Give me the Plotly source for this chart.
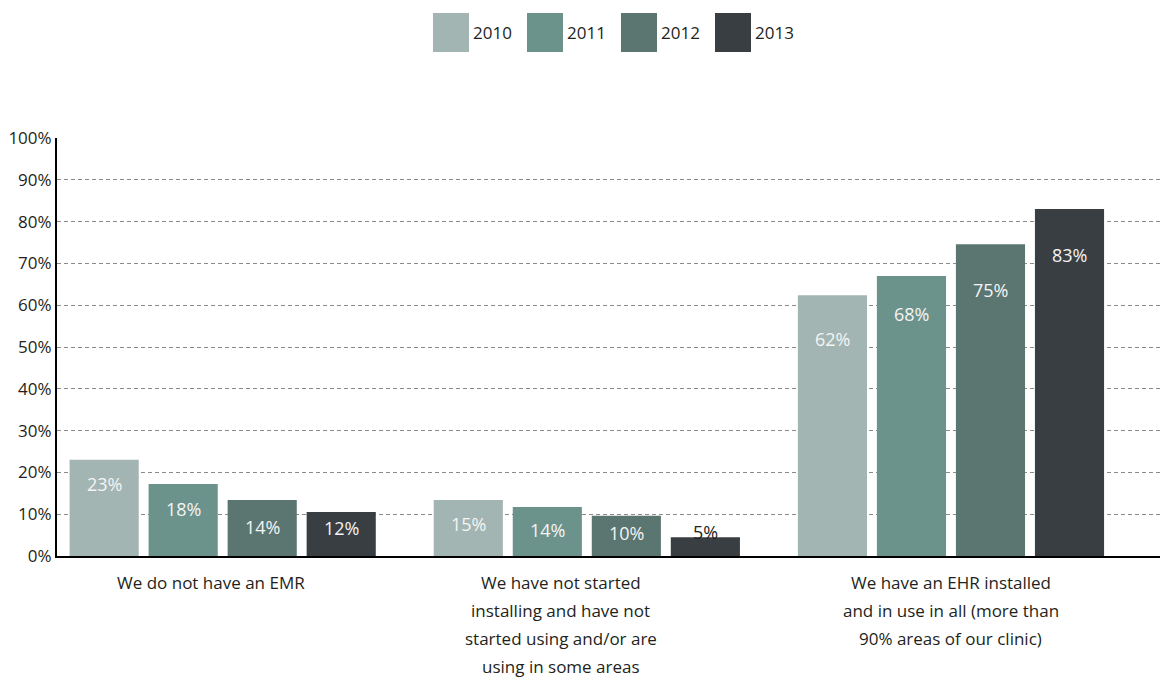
import plotly.graph_objects as go

# ---------------- data ----------------
years = ["2010", "2011", "2012", "2013"]
categories = [
    "We do not have an EMR",
    "We have not started<br>installing and have not<br>started using and/or are<br>using in some areas",
    "We have an EHR installed<br>and in use in all (more than<br>90% areas of our clinic)",
]
# bar heights as drawn (percent)
heights_2010 = [23.0, 13.4, 62.4]
heights_2011 = [17.2, 11.7, 67.0]
heights_2012 = [13.4, 9.6, 74.6]
heights_2013 = [10.5, 4.5, 83.0]
# printed labels (percent)
labels_2010 = [23, 15, 62]
labels_2011 = [18, 14, 68]
labels_2012 = [14, 10, 75]
labels_2013 = [12, 5, 83]
y_ticks = [0, 10, 20, 30, 40, 50, 60, 70, 80, 90, 100]

heights = [heights_2010, heights_2011, heights_2012, heights_2013]
labels = [labels_2010, labels_2011, labels_2012, labels_2013]

# ---------------- style ----------------
colors = ["#a3b5b2", "#6c928c", "#5b7570", "#393e42"]
FONT = "Open Sans"
TXT = "#231f20"
label_yshift = [[-24, -24, -44], [-25, -23, -38], [-27, -17, -46], [-16, 5, -46]]
label_color = [["#f4f4f4"] * 3, ["#f4f4f4"] * 3, ["#f4f4f4"] * 3,
               ["#f4f4f4", TXT, "#f4f4f4"]]
cat_xshift = [-12, -26, 0]
bargap, bargroupgap = 0.132, 0.125

OFF = 8  # page body margin
W, H = 1168 - OFF, 679 - OFF
L, R, T = 57 - OFF, 0, 138 - OFF
B = H - (556 - OFF)
pw, ph = W - L - R, H - T - B


def px_to_paper(xp, yp):
    # xp, yp: window pixel coordinates
    xf, yf = xp - OFF, yp - OFF
    return (xf - L) / pw, (H - B - yf) / ph


xs = list(range(len(categories)))
fig = go.Figure()
for i, yr in enumerate(years):
    fig.add_trace(go.Bar(x=xs, y=heights[i], name=yr, marker_color=colors[i],
                         marker_line_width=0, showlegend=False))

annotations = []
slot = (1 - bargap) / len(years)
for i in range(len(years)):
    for c in xs:
        annotations.append(dict(
            x=c + (i - (len(years) - 1) / 2) * slot, y=heights[i][c],
            xref="x", yref="y", text=f"{labels[i][c]}%", showarrow=False,
            yanchor="middle", yshift=label_yshift[i][c],
            font=dict(family=FONT, size=18, color=label_color[i][c])))

# category labels (one annotation per line for wider line spacing)
for c, cat in enumerate(categories):
    for j, line in enumerate(cat.split("<br>")):
        annotations.append(dict(
            x=c, y=0, xref="x", yref="y", text=line, showarrow=False,
            yanchor="middle", xanchor="center", yshift=-(26 + 28 * j),
            xshift=cat_xshift[c],
            font=dict(family=FONT, size=17, color=TXT)))

# custom legend with large swatches
shapes = []
leg_x0 = 433
leg_step = 94
for i, yr in enumerate(years):
    x0 = leg_x0 + i * leg_step
    px0, py0 = px_to_paper(x0, 52)
    px1, py1 = px_to_paper(x0 + 36, 13)
    shapes.append(dict(type="rect", xref="paper", yref="paper",
                       x0=px0, x1=px1, y0=py0, y1=py1,
                       fillcolor=colors[i], line=dict(width=0)))
    tx, ty = px_to_paper(x0 + 38, 33)
    annotations.append(dict(x=tx, y=ty, xref="paper", yref="paper", text=yr,
                            showarrow=False, xanchor="left", yanchor="middle",
                            font=dict(family=FONT, size=17, color=TXT)))

fig.update_layout(
    width=W, height=H,
    margin=dict(l=L, r=R, t=T, b=B, pad=0),
    paper_bgcolor="white", plot_bgcolor="white",
    barmode="group", bargap=bargap, bargroupgap=bargroupgap,
    showlegend=False,
    font=dict(family=FONT, size=17, color=TXT),
    xaxis=dict(range=[-0.455, 2.596], showticklabels=False, showgrid=False,
               zeroline=False, showline=True, linecolor="black", linewidth=2,
               ticks=""),
    yaxis=dict(range=[0, 100], tickvals=y_ticks,
               ticktext=[f"{v}%" for v in y_ticks],
               showgrid=True, gridcolor="#8a8a8a", gridwidth=1, griddash="4px,3px",
               zeroline=False, showline=True, linecolor="black", linewidth=2,
               ticks="", tickfont=dict(family=FONT, size=17, color=TXT)),
    annotations=annotations, shapes=shapes,
)

fig.write_html("out.html")
